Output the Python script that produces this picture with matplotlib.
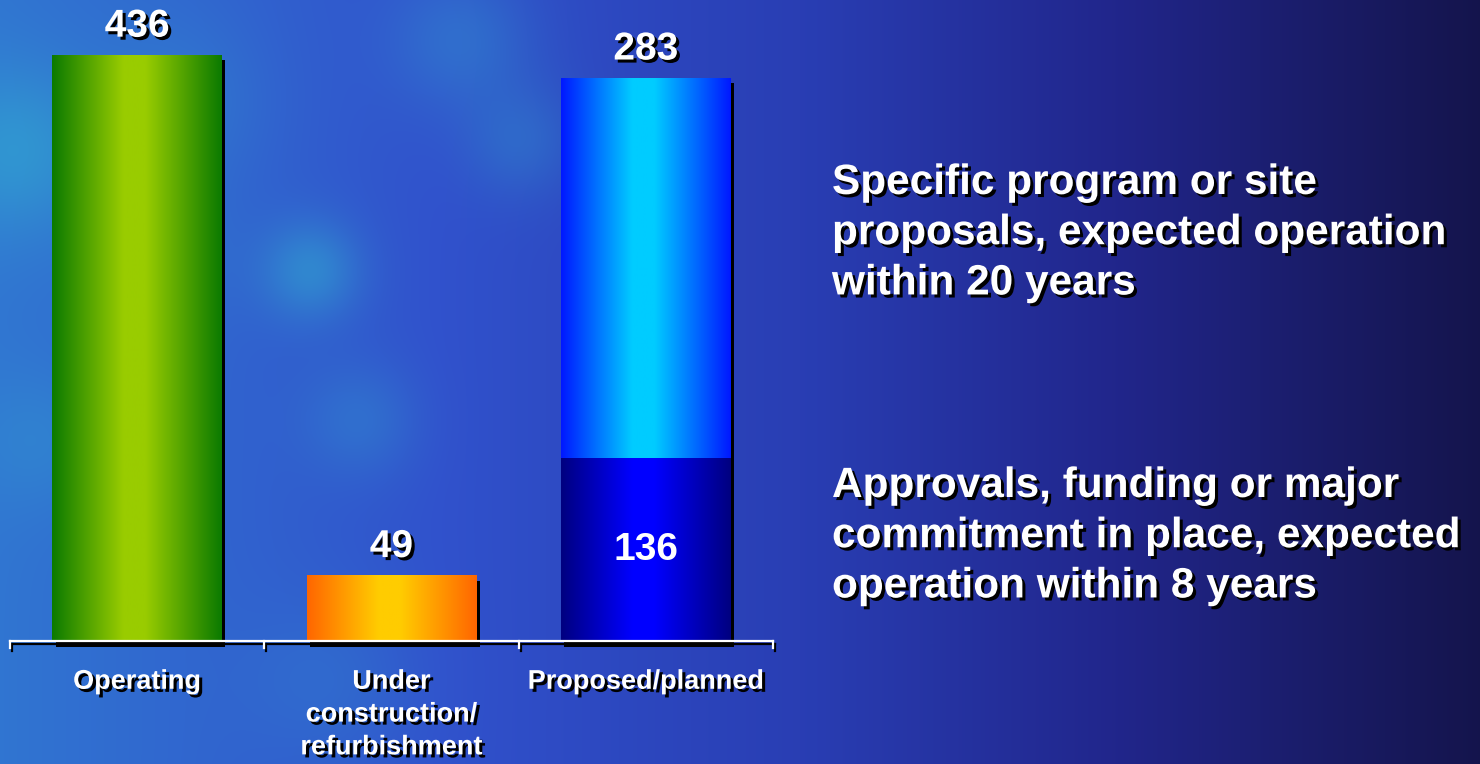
"""
plot.py - reactor status bar chart on a blue slide background
"""

import numpy as np
import matplotlib
matplotlib.use("Agg")
import matplotlib.pyplot as plt
import matplotlib.patheffects as pe
from matplotlib.colors import LinearSegmentedColormap

plt.rcParams['font.family'] = ['Liberation Sans', 'DejaVu Sans']
plt.rcParams['font.weight'] = 'bold'

# data
categories = ['Operating', 'Under\nconstruction/\nrefurbishment', 'Proposed/planned']
base_values = [436, 49, 136]
top_values = [0, 0, 283]
note_upper = 'Specific program or site\nproposals, expected operation\nwithin 20 years'
note_lower = 'Approvals, funding or major\ncommitment in place, expected\noperation within 8 years'

# gradients across each bar (edge -> centre -> edge)
grad_base = [['#0b7a00', '#99cc00', '#99cc00', '#0b7a00'],
             ['#ff6600', '#ffcc00', '#ffcc00', '#ff6600'],
             ['#000080', '#0000ff', '#0000ff', '#000080']]
grad_top = ['#0018ff', '#00ccff', '#00ccff', '#0018ff']

W, H = 1480, 764
fig = plt.figure(figsize=(W / 100, H / 100), dpi=100)

# background: blue slide, lighter with cyan clouds on the left, navy on the right
yy, xx = np.mgrid[0:H, 0:W]
u = xx / W
stops = [0, 0.3, 0.55, 0.75, 1]
bg = np.dstack([np.interp(u, stops, [0.19, 0.19, 0.16, 0.13, 0.08]),
                np.interp(u, stops, [0.46, 0.32, 0.24, 0.15, 0.08]),
                np.interp(u, stops, [0.82, 0.80, 0.70, 0.55, 0.30])])
cyan = np.array([0.19, 0.64, 0.82])
for cx, cy, r, a in [(15, 150, 60, 0.7), (310, 270, 35, 0.6), (460, 40, 50, 0.35),
                     (180, 100, 60, 0.25), (360, 420, 40, 0.3), (40, 440, 50, 0.3),
                     (520, 140, 40, 0.3), (330, 680, 60, 0.2), (160, 250, 50, 0.2)]:
    g = a * np.exp(-((xx - cx) ** 2 + (yy - cy) ** 2) / (2 * r ** 2))
    bg = bg * (1 - g[..., None]) + cyan[None, None, :] * g[..., None]
bax = fig.add_axes([0, 0, 1, 1], zorder=-1)
bax.imshow(np.clip(bg, 0, 1), aspect='auto', extent=(0, 1, 0, 1))
bax.axis('off')

ax = fig.add_axes([10 / W, 123 / H, 763 / W, 632 / H])
ax.patch.set_alpha(0)

shadow_txt = [pe.SimplePatchShadow(offset=(2.2, -2.2), shadow_rgbFace='black', alpha=1), pe.Normal()]
bar_shadow = [pe.SimplePatchShadow(offset=(2.4, -4), shadow_rgbFace='black', alpha=1)]

x = np.arange(len(categories))
width = 0.667
bars_base = ax.bar(x, base_values, width, facecolor='none', edgecolor='none',
                   path_effects=bar_shadow, zorder=2, clip_on=False)
bars_top = ax.bar(x, top_values, width, bottom=base_values, facecolor='none',
                  edgecolor='none', path_effects=bar_shadow, zorder=2, clip_on=False)

ramp = np.linspace(0, 1, 256)[None, :]
for bar, cols in zip(bars_base, grad_base):
    cmap = LinearSegmentedColormap.from_list('g', list(zip([0, 0.42, 0.55, 1], cols)))
    x0, y0 = bar.get_xy()
    im = ax.imshow(ramp, cmap=cmap, aspect='auto', zorder=3,
                   extent=(x0, x0 + bar.get_width(), y0, y0 + bar.get_height()))
    im.set_clip_path(bar)
for bar, v in zip(bars_top, top_values):
    if v == 0:
        bar.set_path_effects([])
        continue
    cmap = LinearSegmentedColormap.from_list('t', list(zip([0, 0.42, 0.55, 1], grad_top)))
    x0, y0 = bar.get_xy()
    im = ax.imshow(ramp, cmap=cmap, aspect='auto', zorder=3,
                   extent=(x0, x0 + bar.get_width(), y0, y0 + bar.get_height()))
    im.set_clip_path(bar)

# value labels
for i in range(len(categories)):
    total = base_values[i] + top_values[i]
    if top_values[i] > 0:
        ax.annotate(str(top_values[i]), (x[i], total), xytext=(0, 13), textcoords='offset points',
                    ha='center', va='baseline', fontsize=28, color='white',
                    path_effects=shadow_txt, zorder=5)
        ax.text(x[i], base_values[i] / 2, str(base_values[i]), ha='center', va='center',
                fontsize=28, color='white', zorder=5)
    else:
        ax.annotate(str(base_values[i]), (x[i], total), xytext=(0, 13), textcoords='offset points',
                    ha='center', va='baseline', fontsize=28, color='white',
                    path_effects=shadow_txt, zorder=5)

# axis bracket
bounds = np.arange(len(categories) + 1) - 0.5
line_fx = [pe.SimpleLineShadow(offset=(1.5, -2), shadow_color='black', alpha=1), pe.Normal()]
ax.plot([bounds[0], bounds[-1]], [0, 0], color='white', lw=1.6, zorder=4,
        clip_on=False, path_effects=line_fx)
for b in bounds:
    ax.plot([b, b], [0, -5], color='white', lw=1.6, zorder=4, clip_on=False,
            path_effects=line_fx)

ax.set_xlim(bounds[0], bounds[-1])
ax.set_ylim(0, 470)
ax.set_xticks(x)
ax.set_xticklabels(categories, fontsize=19.5, color='white', linespacing=1.34)
ax.tick_params(axis='x', length=0, pad=20)
ax.set_yticks([])
for s in ax.spines.values():
    s.set_visible(False)
for lbl in ax.get_xticklabels():
    lbl.set_path_effects(shadow_txt)
    lbl.set_verticalalignment('top')

fig.text(832 / W, 1 - 163 / H, note_upper, ha='left', va='top', fontsize=30.5,
         color='white', linespacing=1.33, path_effects=shadow_txt)
fig.text(832 / W, 1 - 466 / H, note_lower, ha='left', va='top', fontsize=30.5,
         color='white', linespacing=1.33, path_effects=shadow_txt)

fig.savefig('out.png', dpi=100)
